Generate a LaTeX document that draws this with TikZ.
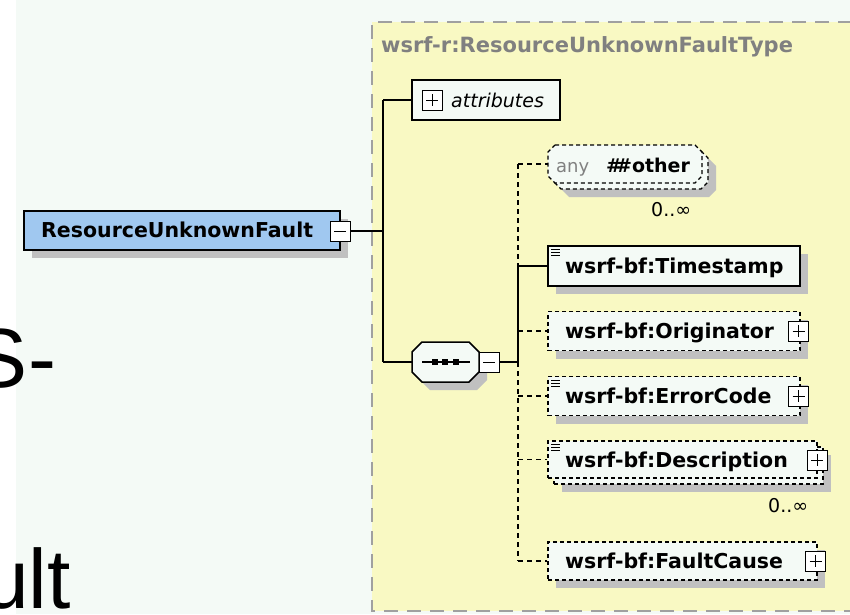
\documentclass[tikz,border=0pt]{standalone}
\usepackage{fontspec}
\setmainfont{DejaVu Sans}
\newfontfamily\bigsans{Liberation Sans}
\usetikzlibrary{calc}

\definecolor{mint}{HTML}{F4FAF6}
\definecolor{typefill}{HTML}{F9F9C3}
\definecolor{typeborder}{HTML}{A0A0A0}
\definecolor{titlegray}{HTML}{808080}
\definecolor{shadowgray}{HTML}{C0C0C0}
\definecolor{elblue}{HTML}{A0C8F0}

% octagon outline: x1 y1 x2 y2 chamfer
\newcommand\octo[5]{(#1+#5,#2) -- (#3-#5,#2) -- (#3,#2+#5) -- (#3,#4-#5) -- (#3-#5,#4) -- (#1+#5,#4) -- (#1,#4-#5) -- (#1,#2+#5) -- cycle}
% three-line documentation mark
\newcommand\docmark[2]{\draw[line width=0.9pt] (#1,#2) -- ++(9,0) (#1,#2+3) -- ++(9,0) (#1,#2+6) -- ++(9,0);}

\tikzset{
  bigtxt/.style={font=\bigsans\fontsize{84}{90}\selectfont, inner sep=0pt},
  box/.style={draw=black, line width=1.5pt, fill=mint, inner sep=0pt},
  optbox/.style={box, dash pattern=on 4pt off 3pt},
  shad/.style={preaction={draw=none, fill=shadowgray, transform canvas={shift={(8pt,-8pt)}}}},
  conn/.style={line width=1.6pt},
  optconn/.style={conn, dash pattern=on 5pt off 4pt},
  lbl/.style={font=\bfseries\fontsize{20.5}{24}\selectfont, inner sep=0pt, anchor=base west},
  mult/.style={font=\fontsize{19}{22}\selectfont, inner sep=0pt, anchor=base west},
  pm/.style={draw=black, fill=white, line width=1pt, minimum size=20pt, inner sep=0pt},
  minusbox/.style={pm, path picture={
      \draw[line width=1pt] ([xshift=4pt]path picture bounding box.west) -- ([xshift=-4pt]path picture bounding box.east);}},
  plusbox/.style={pm, path picture={
      \draw[line width=1pt] ([xshift=4pt]path picture bounding box.west) -- ([xshift=-4pt]path picture bounding box.east);
      \draw[line width=1pt] ([yshift=-4pt]path picture bounding box.north) -- ([yshift=4pt]path picture bounding box.south);}},
}

\begin{document}
\begin{tikzpicture}[x=1pt, y=-1pt]
\useasboundingbox (0,0) rectangle (850,614);

% page background
\fill[white] (0,0) rectangle (850,614);
\fill[mint] (16,0) rectangle (850,614);
\node[bigtxt, anchor=base east] (big1) at (56.2,387) {S-};
\node[bigtxt, anchor=base east] (big2) at (71.1,608) {ult};

% complex type region
\fill[typefill] (372,22) rectangle (852,611);
\draw[typeborder, line width=2pt, dash pattern=on 14pt off 9pt] (852,22) -- (372,22) -- (372,611) -- (852,611);
\node[font=\bfseries\fontsize{21}{24}\selectfont, text=titlegray, inner sep=0pt, anchor=base west] (ttl) at (381,52) {wsrf-r:ResourceUnknownFaultType};

% junction points
\coordinate (jT) at (383,100);
\coordinate (jA) at (383,231);
\coordinate (jB) at (383,362);
\coordinate (seqW) at (412,362);
\coordinate (k0) at (518,164);
\coordinate (kS) at (518,362);
\coordinate (anyW) at (548,164);

% root element
\node[box, fill=elblue, shad, minimum width=316pt, minimum height=39pt] (ruf) at (182,230.5) {};
\node[lbl] (rufT) at (41,237) {ResourceUnknownFault};
\node[minusbox] (rufpm) at (340,231) {};

% attributes
\node[box, minimum width=148pt, minimum height=40pt] (att) at (486,100) {};
\node[plusbox] (attpm) at (432,100) {};
\node[font=\itshape\fontsize{19}{22}\selectfont, inner sep=0pt, anchor=base west] (attT) at (451,107) {attributes};

% sequence compositor
\fill[shadowgray] \octo{420}{350}{487}{390}{10};
\filldraw[fill=mint, draw=black, line width=1.5pt] \octo{412}{342}{479}{382}{10};
\draw[line width=1.5pt] (422,362) -- (470,362);
\foreach \dx in {435,445,456} \fill (\dx-2.8,359.2) rectangle ++(5.6,5.6);
\node[minusbox] (seqpm) at (489,362) {};

% wildcard ##other (0..unbounded)
\fill[shadowgray] \octo{562}{159}{716}{197}{7};
\filldraw[fill=mint, draw=black, line width=1.3pt, dash pattern=on 4pt off 3pt] \octo{554}{151}{708}{189}{7};
\filldraw[fill=mint, draw=black, line width=1.3pt, dash pattern=on 4pt off 3pt] \octo{548}{145}{702}{183}{7};
\node[font=\fontsize{18}{21}\selectfont, text=titlegray, inner sep=0pt, anchor=base west] (anyT) at (556,172) {any};
\node[font=\bfseries\fontsize{19}{22}\selectfont, inner sep=0pt, anchor=base west] (othT) at (606,172) {\#\kern-6pt\#other};
\node[mult] (anyM) at (651,216) {0..∞};

% child elements
\node[box, shad, minimum width=252pt, minimum height=40pt] (ts) at (674,266) {};
\docmark{551}{249}
\node[lbl] (tsT) at (565,273.5) {wsrf-bf:Timestamp};

\node[optbox, shad, minimum width=252pt, minimum height=39pt] (orig) at (674,331) {};
\node[lbl] (origT) at (565,338.5) {wsrf-bf:Originator};
\node[plusbox] (origpm) at (798.5,331) {};

\node[optbox, shad, minimum width=252pt, minimum height=39pt] (ec) at (674,396) {};
\docmark{551}{380}
\node[lbl] (ecT) at (565,403.5) {wsrf-bf:ErrorCode};
\node[plusbox] (ecpm) at (798.5,396) {};

\node[optbox, shad, minimum width=269pt, minimum height=37pt] (descB) at (688.5,465.5) {};
\node[optbox, minimum width=269pt, minimum height=37pt] (desc) at (682.5,459.5) {};
\docmark{551}{444}
\node[lbl] (descT) at (565,467) {wsrf-bf:Description};
\node[plusbox] (descpm) at (817,460) {};
\node[mult] (descM) at (768,512) {0..∞};

\node[optbox, shad, minimum width=269pt, minimum height=38pt] (fc) at (682.5,561) {};
\node[lbl] (fcT) at (565,568.5) {wsrf-bf:FaultCause};
\node[plusbox] (fcpm) at (815.5,561) {};

% connectors
\draw[conn] (rufpm.east) -- (jA);
\draw[conn] (jT) -- (jB);
\draw[conn] (jT) -- (att.west);
\draw[conn] (jB) -- (seqW);
\draw[conn] (seqpm.east) -- (kS);
\draw[optconn] (k0) -- (anyW);
\draw[optconn] (k0) -- (ts.west -| kS);
\draw[conn] (ts.west -| kS) -- (kS);
\draw[conn] (ts.west -| kS) -- (ts.west);
\draw[optconn] (orig.west -| kS) -- (orig.west);
\draw[optconn] (kS) -- (fc.west -| kS);
\draw[optconn] (ec.west -| kS) -- (ec.west);
\draw[optconn] (desc.west -| kS) -- (desc.west);
\draw[optconn] (fc.west -| kS) -- (fc.west);
\end{tikzpicture}
\end{document}
